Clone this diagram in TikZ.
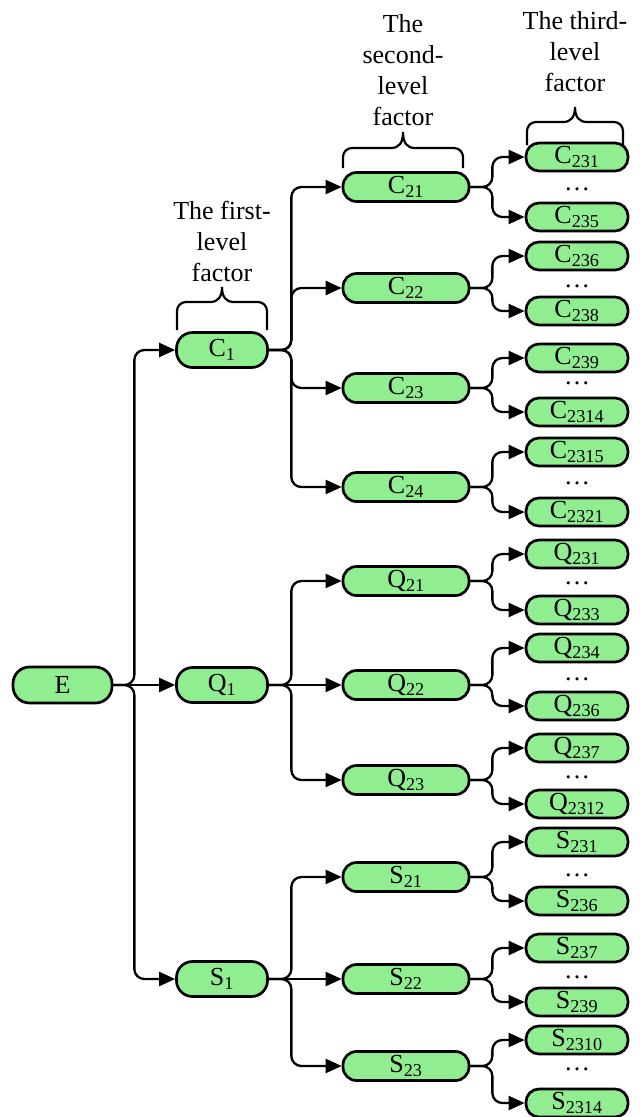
\documentclass[tikz,border=0pt]{standalone}
\usepackage{fontspec}
\setmainfont{Liberation Serif}
\usetikzlibrary{arrows.meta}
\definecolor{boxgreen}{RGB}{144,238,144}
\newcommand\levelbrace[5]{% x1, x2, bottom y, arm y, tip y
  \draw[bracestyle] (#1,#3) -- (#1,#4+9)
    .. controls (#1,#4+4) and (#1+4,#4) .. (#1+9,#4)
    -- ({(#1+#2)/2-12},#4)
    .. controls ({(#1+#2)/2-4},#4) and ({(#1+#2)/2},#4-5) .. ({(#1+#2)/2},#5)
    .. controls ({(#1+#2)/2},#4-5) and ({(#1+#2)/2+4},#4) .. ({(#1+#2)/2+12},#4)
    -- (#2-9,#4)
    .. controls (#2-4,#4) and (#2,#4+4) .. (#2,#4+9) -- (#2,#3);}
\begin{document}
\begin{tikzpicture}[x=1pt,y=-1pt,
  font=\fontsize{26}{31}\selectfont,
  box/.style={draw=black, line width=2.7pt, fill=boxgreen, inner sep=0pt},
  lone/.style={box, minimum width=91pt, minimum height=35pt, rounded corners=16pt},
  ltwo/.style={box, minimum width=126pt, minimum height=29pt, rounded corners=13.5pt},
  lthree/.style={box, minimum width=102pt, minimum height=28pt, rounded corners=13pt},
  conn/.style={line width=2.3pt, rounded corners=10pt, -{Triangle[length=16pt,width=14pt]}},
  connb/.style={conn, rounded corners=10pt},
  bracestyle/.style={line width=2.2pt},
  title/.style={align=center, inner sep=0pt},
  dots/.style={inner sep=0pt}]
\useasboundingbox (0,0) rectangle (640,1117);

% titles and braces
\node[title] (t1) at (222,241) {The first-\\level\\factor};
\node[title] (t2) at (403,70) {The\\second-\\level\\factor};
\node[title] (t3) at (575,52) {The third-\\level\\factor};
\levelbrace{177}{267}{330}{302}{287}
\levelbrace{343}{463}{168}{148}{132}
\levelbrace{527}{623}{145}{122}{107}

% root
\node[box, minimum width=99pt, minimum height=36pt, rounded corners=16.5pt] (E) at (62.5,685) {E};

% first level
\node[lone] (C1) at (222,350) {C\textsubscript{1}};
\node[lone] (Q1) at (222,685) {Q\textsubscript{1}};
\node[lone] (S1) at (222,979) {S\textsubscript{1}};

% second level
\node[ltwo] (C21) at (406,187) {C\textsubscript{21}};
\node[ltwo] (C22) at (406,288) {C\textsubscript{22}};
\node[ltwo] (C23) at (406,388) {C\textsubscript{23}};
\node[ltwo] (C24) at (406,487) {C\textsubscript{24}};
\node[ltwo] (Q21) at (406,581) {Q\textsubscript{21}};
\node[ltwo] (Q22) at (406,685) {Q\textsubscript{22}};
\node[ltwo] (Q23) at (406,780) {Q\textsubscript{23}};
\node[ltwo] (S21) at (406,877) {S\textsubscript{21}};
\node[ltwo] (S22) at (406,979) {S\textsubscript{22}};
\node[ltwo] (S23) at (406,1066) {S\textsubscript{23}};

% third level
\node[lthree] (C231) at (577,157) {C\textsubscript{231}};
\node[dots] (dC21) at (577,189) {\ldots};
\node[lthree] (C235) at (577,217) {C\textsubscript{235}};
\node[lthree] (C236) at (577,256) {C\textsubscript{236}};
\node[dots] (dC22) at (577,286) {\ldots};
\node[lthree] (C238) at (577,311) {C\textsubscript{238}};
\node[lthree] (C239) at (577,358) {C\textsubscript{239}};
\node[dots] (dC23) at (577,383) {\ldots};
\node[lthree] (C2314) at (577,412) {C\textsubscript{2314}};
\node[lthree] (C2315) at (577,452) {C\textsubscript{2315}};
\node[dots] (dC24) at (577,483) {\ldots};
\node[lthree] (C2321) at (577,512) {C\textsubscript{2321}};
\node[lthree] (Q231) at (577,554) {Q\textsubscript{231}};
\node[dots] (dQ21) at (577,583) {\ldots};
\node[lthree] (Q233) at (577,610) {Q\textsubscript{233}};
\node[lthree] (Q234) at (577,648) {Q\textsubscript{234}};
\node[dots] (dQ22) at (577,679) {\ldots};
\node[lthree] (Q236) at (577,706) {Q\textsubscript{236}};
\node[lthree] (Q237) at (577,748) {Q\textsubscript{237}};
\node[dots] (dQ23) at (577,777) {\ldots};
\node[lthree] (Q2312) at (577,804) {Q\textsubscript{2312}};
\node[lthree] (S231) at (577,842) {S\textsubscript{231}};
\node[dots] (dS21) at (577,875) {\ldots};
\node[lthree] (S236) at (577,901) {S\textsubscript{236}};
\node[lthree] (S237) at (577,948) {S\textsubscript{237}};
\node[dots] (dS22) at (577,977) {\ldots};
\node[lthree] (S239) at (577,1002) {S\textsubscript{239}};
\node[lthree] (S2310) at (577,1040) {S\textsubscript{2310}};
\node[dots] (dS23) at (577,1069) {\ldots};
\node[lthree] (S2314) at (577,1103) {S\textsubscript{2314}};

% connectors root -> level 1
\draw[conn] (E.east) -- (Q1.west);
\draw[conn] (E.east) -- ++(21,0) |- (C1.west);
\draw[conn] (E.east) -- ++(21,0) |- (S1.west);

% level 1 -> level 2
\foreach \c in {C21,C22,C23,C24}
  \draw[conn] (C1.east) -- ++(22.5,0) |- (\c.west);
\draw[conn] (Q1.east) -- ++(22.5,0) |- (Q21.west);
\draw[conn] (Q1.east) -- (Q22.west);
\draw[conn] (Q1.east) -- ++(22.5,0) |- (Q23.west);
\draw[conn] (S1.east) -- ++(22.5,0) |- (S21.west);
\draw[conn] (S1.east) -- (S22.west);
\draw[conn] (S1.east) -- ++(22.5,0) |- (S23.west);

% level 2 -> level 3
\foreach \p/\a/\b in {C21/C231/C235, C22/C236/C238, C23/C239/C2314, C24/C2315/C2321,
                      Q21/Q231/Q233, Q22/Q234/Q236, Q23/Q237/Q2312,
                      S21/S231/S236, S22/S237/S239, S23/S2310/S2314}{
  \draw[connb] (\p.east) -- ++(22,0) |- (\a.west);
  \draw[connb] (\p.east) -- ++(22,0) |- (\b.west);
}
\end{tikzpicture}
\end{document}
